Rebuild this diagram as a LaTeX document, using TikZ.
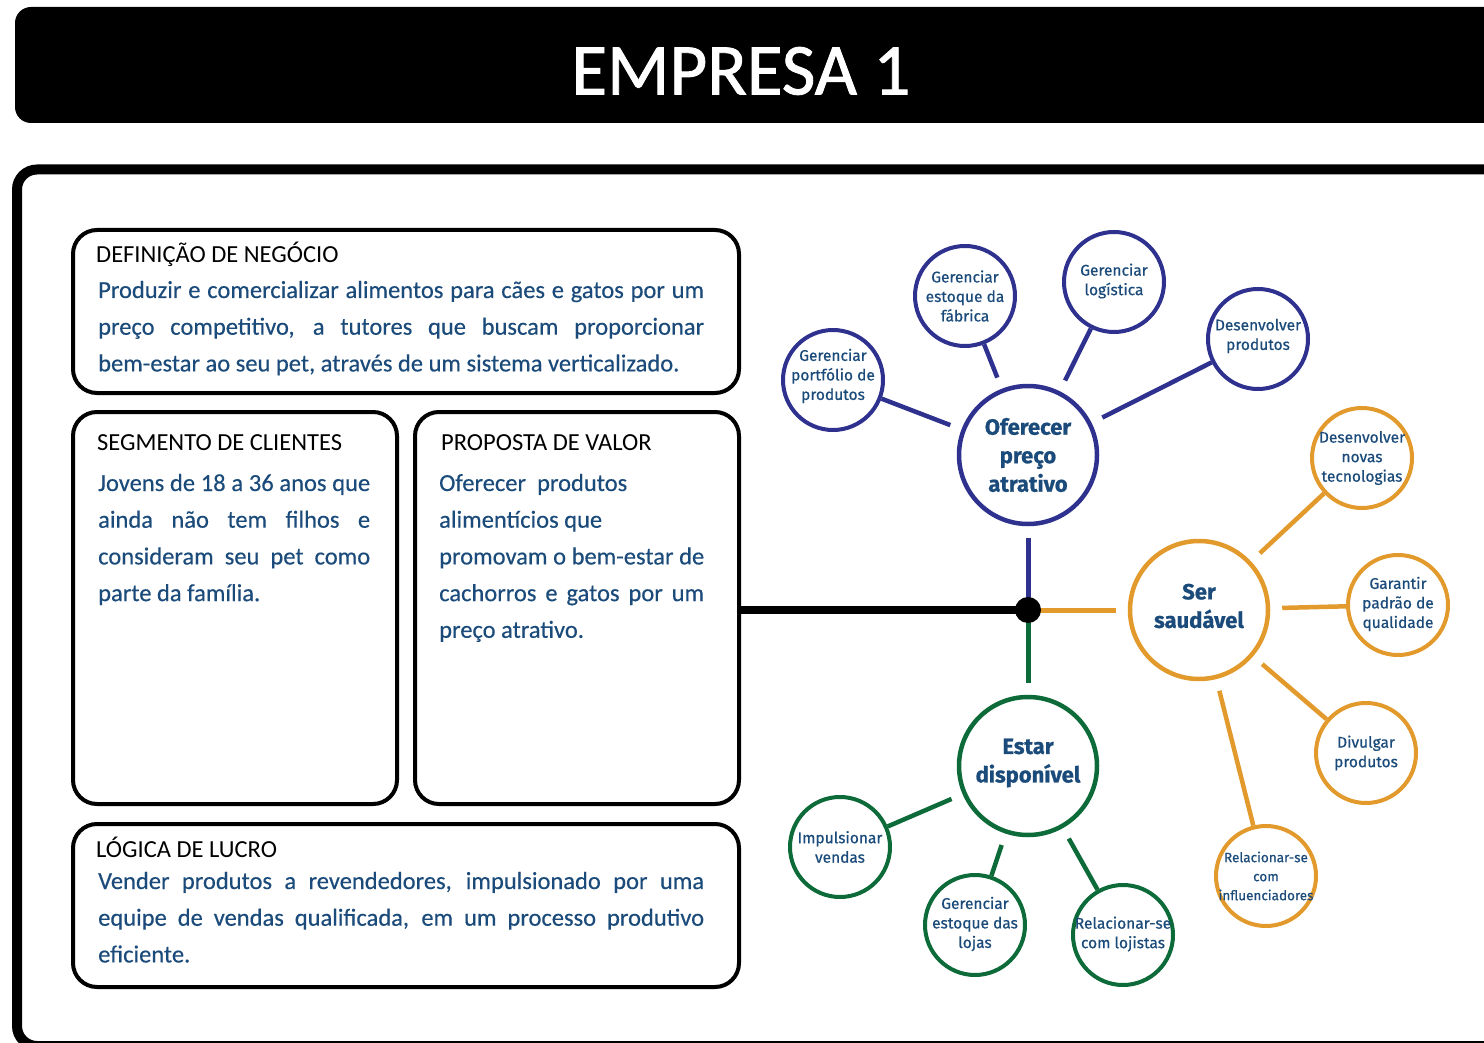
\documentclass[tikz,border=0pt]{standalone}
\usepackage{fontspec}
\newfontfamily\cardfont{Carlito}
\newfontfamily\titlefont[FakeBold=1.2]{Carlito}
\newfontfamily\cardbodyfont[FakeBold=0.35]{Carlito}
\newfontfamily\bubfont[FakeBold=0.6]{Fira Sans}
\newfontfamily\bubheadfont[FakeBold=0.8]{Fira Sans Bold}
\definecolor{inkblue}{HTML}{1B4B7A}
\definecolor{navy}{HTML}{2F318F}
\definecolor{amber}{HTML}{E39A2D}
\definecolor{leaf}{HTML}{0D6B3A}
\newcommand\jline[2]{\makebox[#1][s]{#2}}
\pgfdeclarelayer{back}
\pgfdeclarelayer{links}
\pgfsetlayers{back,links,main}
\tikzset{
  card/.style={draw, line width=4pt, rounded corners=24pt, inner sep=0pt},
  cardhead/.style={anchor=base west, inner sep=0pt, text=black,
    font=\cardfont\fontsize{24.5}{30}\selectfont},
  cardbody/.style={anchor=base west, inner sep=0pt, text=inkblue},
  bub/.style={circle, draw, inner sep=0pt, minimum size=100pt, line width=4pt},
  bubmain/.style={bub, minimum size=138pt, line width=4.5pt},
  bubtext/.style={align=center, text=inkblue, inner sep=0pt,
    font=\bubfont\fontsize{15.5}{19.5}\selectfont},
  bubhead/.style={align=center, text=inkblue, inner sep=0pt,
    font=\bubheadfont\fontsize{22}{28.5}\selectfont},
  link/.style={line width=4.5pt, shorten >=12pt},
  stem/.style={line width=5pt},
}
\newcommand\cardtext[2]{\parbox[t]{#1}{\cardbodyfont\fontsize{24.5}{36.7}\selectfont #2}}
\begin{document}
\begin{tikzpicture}[x=1pt, y=-1pt]
\useasboundingbox (0,0) rectangle (1484,1043);
\clip (0,0) rectangle (1484,1043);
\begin{pgfonlayer}{back}
  \fill[white] (0,0) rectangle (1484,1043);
\end{pgfonlayer}

% title bar
\fill[black, rounded corners=16pt] (15,7) rectangle (1540,123);
\node[text=white, inner sep=0pt, font=\titlefont\fontsize{73}{80}\selectfont] (title) at (741,71) {EMPRESA 1};

% outer frame
\draw[line width=10pt, rounded corners=20pt] (17,169.5) rectangle (1560,1046);

% business model cards
\node[card, minimum width=666pt, minimum height=163pt] (def) at (406,311.5) {};
\node[card, minimum width=324pt, minimum height=392pt] (seg) at (235,608) {};
\node[card, minimum width=324pt, minimum height=392pt] (prop) at (577,608) {};
\node[card, minimum width=666pt, minimum height=163pt] (luc) at (406,905.5) {};

\node[cardhead] (defh) at (96,263) {DEFINIÇÃO DE NEGÓCIO};
\node[cardbody] (defb) at (98,298) {\cardtext{606pt}{%
  \jline{606pt}{Produzir e comercializar alimentos para cães e gatos por um}\\
  \jline{606pt}{preço competitivo, a tutores que buscam proporcionar}\\
  bem-estar ao seu pet, através de um sistema verticalizado.}};

\node[cardhead] (segh) at (97,450) {SEGMENTO DE CLIENTES};
\node[cardbody] (segb) at (98,491) {\cardtext{272pt}{%
  \jline{272pt}{Jovens de 18 a 36 anos que}\\
  \jline{272pt}{ainda não tem filhos e}\\
  \jline{272pt}{consideram seu pet como}\\
  parte da família.}};

\node[cardhead] (proph) at (441,450) {PROPOSTA DE VALOR};
\node[cardbody] (propb) at (439,491) {\cardtext{265pt}{%
  Oferecer\ \ produtos\\
  alimentícios que\\
  \jline{265pt}{promovam o bem-estar de}\\
  \jline{265pt}{cachorros e gatos por um}\\
  preço atrativo.}};

\node[cardhead] (luch) at (96,857) {LÓGICA DE LUCRO};
\node[cardbody] (lucb) at (98,889) {\cardtext{606pt}{%
  \jline{606pt}{Vender produtos a revendedores, impulsionado por uma}\\
  \jline{606pt}{equipe de vendas qualificada, em um processo produtivo}\\
  eficiente.}};

% objective tree
\node[bubmain, draw=navy] (price) at (1028,455) {};
\node[bubhead] (priceT) at (1028,455) {Oferecer\\preço\\atrativo};
\node[bubmain, draw=amber] (health) at (1199,610) {};
\node[bubhead] (healthT) at (1199,606) {Ser\\saudável};
\node[bubmain, draw=leaf] (avail) at (1028,766) {};
\node[bubhead] (availT) at (1028,763) {Estar\\disponível};

\node[bub, draw=navy] (portf) at (833,380) {};
\node[bubtext] (portfT) at (833,376) {Gerenciar\\portfólio de\\produtos};
\node[bub, draw=navy] (fstock) at (965,296) {};
\node[bubtext] (fstockT) at (965,296) {Gerenciar\\estoque da\\fábrica};
\node[bub, draw=navy] (logis) at (1114,282) {};
\node[bubtext] (logisT) at (1114,281) {Gerenciar\\logística};
\node[bub, draw=navy] (dprod) at (1258,339) {};
\node[bubtext] (dprodT) at (1258,336) {Desenvolver\\produtos};

\node[bub, draw=amber] (tech) at (1362,458) {};
\node[bubtext] (techT) at (1362,458) {Desenvolver\\novas\\tecnologias};
\node[bub, draw=amber] (qual) at (1398,605) {};
\node[bubtext] (qualT) at (1398,604) {Garantir\\padrão de\\qualidade};
\node[bub, draw=amber] (promo) at (1366,753) {};
\node[bubtext] (promoT) at (1366,753) {Divulgar\\produtos};
\node[bub, draw=amber] (infl) at (1266,876) {};
\node[bubtext, font=\bubfont\fontsize{13.5}{19}\selectfont] (inflT) at (1266,876) {Relacionar-se\\com\\influenciadores};

\node[bub, draw=leaf] (sales) at (840,847) {};
\node[bubtext] (salesT) at (840,847) {Impulsionar\\vendas};
\node[bub, draw=leaf] (sstock) at (975,925) {};
\node[bubtext] (sstockT) at (975,924) {Gerenciar\\estoque das\\lojas};
\node[bub, draw=leaf] (shops) at (1123,935) {};
\node[bubtext] (shopsT) at (1123,934) {Relacionar-se\\com lojistas};

\node[circle, fill=black, minimum size=26pt, inner sep=0pt] (hub) at (1028,610) {};

\begin{pgfonlayer}{links}
  \draw[line width=8pt] (prop.east |- hub) -- (hub.center);
  \draw[stem, navy, shorten <=12pt] (price) -- (hub.center);
  \draw[stem, amber, shorten >=12pt] (hub.center) -- (health);
  \draw[stem, leaf, shorten >=12pt] (hub.center) -- (avail);

  \draw[link, navy] (portf) -- (price);
  \draw[link, navy] (fstock) -- (price);
  \draw[link, navy] (logis) -- (price);
  \draw[link, navy] (dprod) -- (price);

  \draw[link, amber] (tech) -- (health);
  \draw[link, amber] (qual) -- (health);
  \draw[link, amber] (promo) -- (health);
  \draw[link, amber] (infl) -- (health);

  \draw[link, leaf] (sales) -- (avail);
  \draw[link, leaf] (sstock) -- (avail);
  \draw[link, leaf] (shops) -- (avail);
\end{pgfonlayer}
\end{tikzpicture}
\end{document}
